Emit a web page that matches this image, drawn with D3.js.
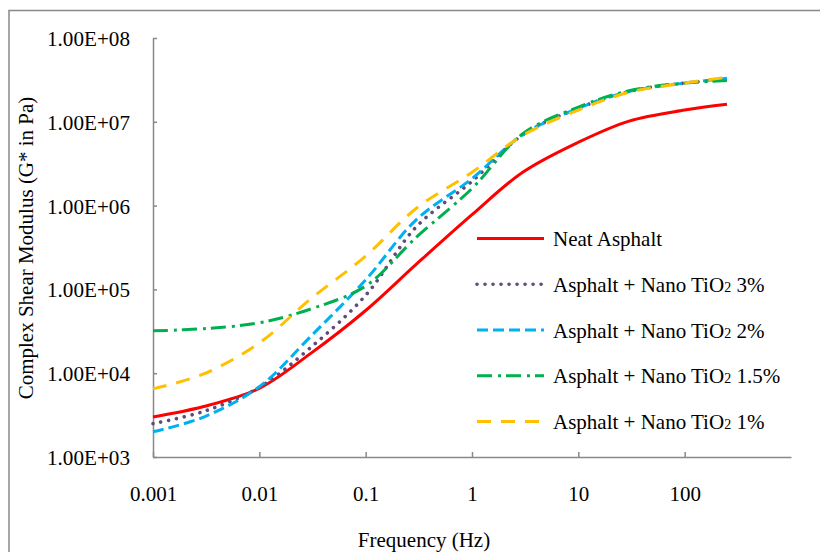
<!DOCTYPE html>
<html>
<head>
<meta charset="utf-8">
<script src="https://cdn.jsdelivr.net/npm/d3@7"></script>
<style>
  body { margin: 0; background: #fff; }
  svg { display: block; font-family: "Liberation Serif", "Times New Roman", serif; }
</style>
</head>
<body>
<svg id="chart" width="820" height="552"></svg>
<script>
const freq = [0.001, 0.003, 0.01, 0.03, 0.1, 0.3, 1, 3, 10, 30, 100, 250]

// complex shear modulus G* (Pa)
const neat = [3.0e3, 4.0e3, 6.6e3, 1.7e4, 5.6e4, 2.0e5, 7.8e5, 2.5e6, 5.7e6, 1.02e7, 1.38e7, 1.62e7]
const tio3 = [2.5e3, 3.5e3, 6.8e3, 2.0e4, 8.5e4, 5.6e5, 1.95e6, 7.0e6, 1.45e7, 2.3e7, 2.9e7, 3.2e7]
const tio2 = [2.0e3, 3.0e3, 6.9e3, 2.7e4, 1.3e5, 6.8e5, 2.1e6, 7.0e6, 1.45e7, 2.3e7, 2.9e7, 3.3e7]
const tio15 = [3.2e4, 3.4e4, 4.0e4, 5.8e4, 1.1e5, 4.2e5, 1.6e6, 7.2e6, 1.5e7, 2.35e7, 2.9e7, 3.1e7]
const tio1 = [6.5e3, 9.8e3, 2.3e4, 7.6e4, 2.5e5, 9.3e5, 2.5e6, 6.9e6, 1.38e7, 2.25e7, 2.9e7, 3.4e7]

const seriesNames = ['Neat Asphalt', 'Asphalt + Nano TiO2 3%', 'Asphalt + Nano TiO2 2%', 'Asphalt + Nano TiO2 1.5%', 'Asphalt + Nano TiO2 1%']
const xTickValues = [0.001, 0.01, 0.1, 1, 10, 100]
const xTickLabels = ['0.001', '0.01', '0.1', '1', '10', '100']
const yTickValues = [1e3, 1e4, 1e5, 1e6, 1e7, 1e8]
const yTickLabels = ['1.00E+03', '1.00E+04', '1.00E+05', '1.00E+06', '1.00E+07', '1.00E+08']

const styles = [
  { color: '#FF0000', dash: null, width: 3, cap: 'butt' },
  { color: '#604A7B', dash: '0.01 8', width: 3.6, cap: 'round' },
  { color: '#00B0F0', dash: '11 5', width: 3, cap: 'butt' },
  { color: '#00B050', dash: '15 6 3 5', width: 3, cap: 'butt' },
  { color: '#FFC000', dash: '14 10', width: 3, cap: 'butt' },
]
const seriesData = [neat, tio3, tio2, tio15, tio1]

const svg = d3.select('#chart')
const axisColor = '#898989'

// outer frame (runs past the right/bottom edge)
svg.append('rect')
  .attr('x', 9).attr('y', 10.5)
  .attr('width', 900).attr('height', 700)
  .attr('fill', 'none')
  .attr('stroke', axisColor)
  .attr('stroke-width', 1.5)

const plot = { left: 153, right: 791, top: 38, bottom: 457 }

const x = d3.scaleLog().domain([0.001, 1000]).range([plot.left, plot.right])
const y = d3.scaleLog().domain([1e3, 1e8]).range([plot.bottom, plot.top])

// x axis
const xAxis = svg.append('g')
  .attr('transform', `translate(0,${plot.bottom})`)
  .call(d3.axisBottom(x).tickValues(xTickValues)
    .tickFormat((d, i) => xTickLabels[i])
    .tickSizeInner(-5).tickSizeOuter(0))
xAxis.select('.domain').attr('stroke', axisColor).attr('stroke-width', 1.5)
xAxis.selectAll('.tick line').attr('stroke', axisColor).attr('stroke-width', 1.5)
xAxis.selectAll('.tick text')
  .attr('y', 44).attr('dy', 0)
  .attr('fill', '#000')
  .style('font-size', '21px')
  .style('font-family', '"Liberation Serif", serif')

// y axis
const yAxis = svg.append('g')
  .attr('transform', `translate(${plot.left},0)`)
  .call(d3.axisLeft(y).tickValues(yTickValues)
    .tickFormat((d, i) => yTickLabels[i])
    .tickSizeInner(-4).tickSizeOuter(0).tickPadding(23))
yAxis.select('.domain').attr('stroke', axisColor).attr('stroke-width', 1.5)
yAxis.selectAll('.tick line').attr('stroke', axisColor).attr('stroke-width', 1.5)
yAxis.selectAll('.tick text')
  .attr('dy', '0.36em')
  .attr('fill', '#000')
  .attr('textLength', 83)
  .attr('lengthAdjust', 'spacingAndGlyphs')
  .style('font-size', '21px')
  .style('font-family', '"Liberation Serif", serif')

// axis titles
svg.append('text')
  .attr('x', 424).attr('y', 547)
  .attr('text-anchor', 'middle')
  .style('font-size', '21px')
  .text('Frequency (Hz)')

svg.append('text')
  .attr('transform', 'translate(33,248) rotate(-90)')
  .attr('text-anchor', 'middle')
  .style('font-size', '21px')
  .text('Complex Shear Modulus (G* in Pa)')

// curves
const line = d3.line()
  .x((d) => x(d[0]))
  .y((d) => y(d[1]))
  .curve(d3.curveCatmullRom.alpha(0.5))

seriesData.forEach((vals, i) => {
  const st = styles[i]
  svg.append('path')
    .datum(freq.map((f, j) => [f, vals[j]]))
    .attr('d', line)
    .attr('fill', 'none')
    .attr('stroke', st.color)
    .attr('stroke-width', st.width)
    .attr('stroke-linecap', st.cap)
    .attr('stroke-dasharray', st.dash)
})

// legend
const legend = svg.append('g')
const rowY = d3.scaleLinear().domain([0, 4]).range([238.5, 421.5])
seriesNames.forEach((name, i) => {
  const st = styles[i]
  const yy = rowY(i)
  legend.append('line')
    .attr('x1', 477).attr('x2', 544)
    .attr('y1', yy).attr('y2', yy)
    .attr('stroke', st.color)
    .attr('stroke-width', st.width)
    .attr('stroke-linecap', st.cap)
    .attr('stroke-dasharray', st.dash)
  const t = legend.append('text')
    .attr('x', 553).attr('y', yy + 7.7)
    .style('font-size', '21px')
  const m = name.match(/^(.*TiO)2(.*)$/)
  if (m) {
    t.append('tspan').text(m[1])
    t.append('tspan').style('font-size', '14px').text('2')
    t.append('tspan').text(m[2])
  } else {
    t.text(name)
  }
})
</script>
</body>
</html>
